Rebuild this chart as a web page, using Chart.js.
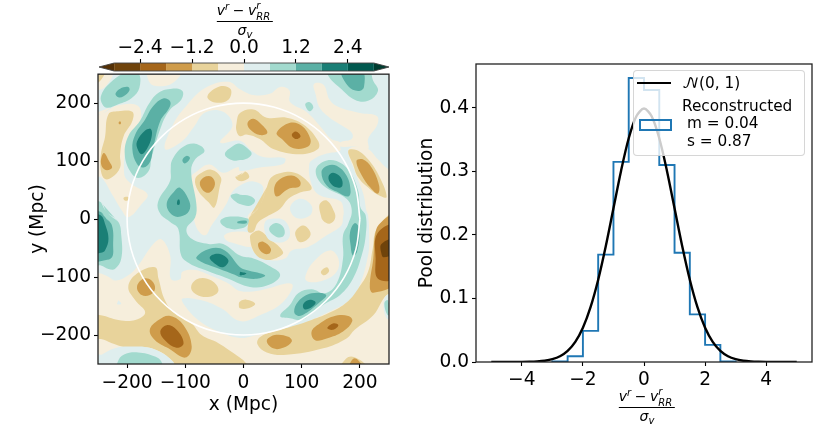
<!DOCTYPE html>
<html><head><meta charset="utf-8">
<script src="https://cdn.jsdelivr.net/npm/chart.js@4"></script>
<style>
html,body{margin:0;padding:0;background:#fff;width:830px;height:428px;overflow:hidden;font-family:"DejaVu Sans",sans-serif;color:#000}
canvas{position:absolute}
.frac{position:absolute;text-align:center;font-size:14px;line-height:14px;transform:translateX(-50%);white-space:nowrap}
.frac i{font-style:italic}
.bar{height:1px;background:#000;margin:2px 0 1px 0}
.ss{display:inline-block;position:relative;width:17px;height:10px}
.ss b{position:absolute;left:0;font-weight:normal;font-style:italic;font-size:10px;line-height:9px}
.sp{font-size:10px;position:relative;top:-5px;font-style:italic}
.sb{font-size:10px;position:relative;top:3px;font-style:italic}
.mn{margin:0 -1px}
#legend{position:absolute;left:633px;top:70px;width:170px;height:84px;background:rgba(255,255,255,.8);border:1px solid rgba(204,204,204,.8);border-radius:4px}
.lt{position:absolute;font-size:15.3px;line-height:16px;white-space:pre}
</style></head><body>
<canvas id="cb" style="left:0;top:0"></canvas>
<canvas id="map" style="left:0;top:60px"></canvas>
<canvas id="hist" style="left:410px;top:0"></canvas>
<div class="frac" style="left:245px;top:3px"><i>v</i><span class="sp">r</span><span class="mn"> − </span><i>v</i><span class="ss"><b style="top:-4px">r</b><b style="top:7px">RR</b></span><div class="bar"></div><i>σ</i><span class="sb">v</span></div>
<div class="frac" style="left:647px;top:389px"><i>v</i><span class="sp">r</span><span class="mn"> − </span><i>v</i><span class="ss"><b style="top:-4px">r</b><b style="top:7px">RR</b></span><div class="bar"></div><i>σ</i><span class="sb">v</span></div>
<div id="legend"></div>
<div style="position:absolute;left:637px;top:82px;width:34px;height:2.2px;background:#000"></div>
<div style="position:absolute;left:639px;top:119px;width:29px;height:8px;border:2px solid #1f77b4"></div>
<div class="lt" style="left:682px;top:75px"><span style="font-family:'DejaVu Math TeX Gyre','DejaVu Serif'">𝒩</span>(0, 1)</div>
<div class="lt" style="left:682px;top:98px">Reconstructed</div>
<div class="lt" style="left:687px;top:115px">m = 0.04</div>
<div class="lt" style="left:687px;top:133px">s = 0.87</div>
<script>
// ---- colour map levels
const levels=[-3,-2.4,-1.8,-1.2,-0.6,0,0.6,1.2,1.8,2.4,3];
const levelColors=['#6f430b','#a5661a','#cf9c4b','#e8d39b','#f6eedc','#dfeeee','#a2dace','#5bb0a5','#1a7f76','#01594f'];
const underColor='#543005', overColor='#003c30';
const cbTicks=[-2.4,-1.2,0,1.2,2.4];
// ---- contour regions of the velocity residual map (x,y in Mpc)
const base=[[-260,-260,260,-260,260,260,-260,260]];
const bandCream=[
 [-260,181,-245,181,-221,195,-181,195,-179,161,-198,135,-205,78,-192,60,-165,43,-175,26,-198,3,-209,15,-226,43,-245,72,-260,72],
 [-163,258,-106,258,-121,235,-146,229,-161,235],
 [-260,258,-224,258,-240,226,-260,226],
 [121,233,137,232,146,209,160,195,200,183,229,178,230,163,214,138,214,121,191,125,166,125,166,132,186,138,186,149,166,163,148,175,131,192,124,215],
 [-135,121,-121,163,-101,192,-66,226,-26,237,-6,224,17,214,45,216,63,228,79,222,80,202,108,185,131,161,151,138,166,132,166,125,166,118,143,113,123,105,113,95,117,60,131,41,166,31,172,15,171,3,168,-11,143,-28,111,-48,83,-54,71,-68,43,-70,16,-54,14,-28,7,3,23,23,34,54,17,65,-6,58,-20,46,-29,27,-43,6,-55,-11,-66,-28,-81,-14,-88,26,-92,69,-78,84,-58,94,-35,80,-9,90,-6,83,28,89,68,95,71,105,34,107,14,118,-6,135,-40,132,-19,161,-35,185,-66,184,-86,158,-106,134],
 [-33,-28,-15,-22,14,-25,18,-37,14,-48,-15,-42,-29,-37],
 [106,-100,120,-74,148,-54,163,-68,160,-91,137,-106,111,-108],
 [-260,-94,-245,-94,-221,-106,-198,-97,-181,-80,-155,-43,-141,-35,-126,-63,-125,-103,-109,-104,-105,-91,-83,-88,-58,-97,-26,-111,-6,-124,28,-123,83,-112,68,-143,28,-166,-6,-176,-38,-154,-72,-140,-105,-137,-102,-148,-78,-174,-43,-194,-6,-205,23,-200,51,-194,97,-185,117,-174,151,-158,177,-144,197,-120,214,-63,216,-28,214,6,211,15,206,43,191,83,180,118,191,125,214,121,231,103,249,86,260,86,260,-260,-260,-260]
];
const bandTan=[
 [-260,258,-238,258,-245,240,-260,232],
 [-232,181,-215,186,-191,185,-191,169,-206,143,-212,112,-212,89,-226,72,-238,69,-245,83,-245,112,-238,141],
 [-206,37,-198,38,-197,33,-204,32],
 [-83,69,-72,80,-55,85,-39,72,-41,55,-50,20,-60,29,-78,49],
 [-62,212,-40,229,-22,224,-26,206,-49,201],
 [-12,165,-6,183,17,189,40,175,74,175,103,163,128,135,128,121,97,112,51,121,28,138,5,146,-6,143,-12,152],
 [10,3,28,23,40,55,48,72,66,80,88,80,106,69,117,52,97,46,77,35,63,18,43,6,25,-6,17,-22,8,-22,8,-8],
 [11,-31,17,-23,28,-20,45,-34,68,-57,57,-67,37,-70,20,-60],
 [-14,73,-6,75,3,82,10,73,3,67,-8,66],
 [131,26,143,32,156,12,157,0,148,-8,137,-3,133,6],
 [90,-20,103,-11,115,-23,111,-34,97,-40,90,-31],
 [133,-91,143,-83,147,-90,138,-97],
 [180,118,194,119,214,103,234,72,246,38,235,40,217,52,197,72,188,95],
 [260,9,229,-17,222,-51,214,-91,197,-120,177,-144,151,-160,117,-174,80,-186,51,-194,28,-204,24,-216,40,-230,74,-234,137,-223,177,-206,191,-191,223,-166,246,-131,260,-131],
 [160,-260,185,-237,215,-260],
 [-198,-117,-183,-94,-152,-83,-146,-103,-135,-140,-118,-163,-89,-180,-72,-200,-43,-214,-9,-237,2,-246,10,-260,-121,-260,-121,-246,-158,-223,-198,-222,-226,-214,-245,-207,-260,-207,-260,-166,-245,-166,-215,-174,-186,-174,-169,-161,-186,-140],
 [-90,-117,-78,-103,-55,-106,-43,-123,-58,-134,-81,-130],
 [-8,-147,-6,-142,5,-139,20,-146,8,-154,-6,-154]
];
const bandOchre=[
 [-260,258,-246,258,-252,246,-260,244],
 [-214,168,-211,168,-211,164,-214,164],
 [-240,114,-231,100,-226,88,-238,85,-245,97],
 [-75,63,-66,73,-55,73,-49,60,-58,46,-69,49],
 [7,166,17,173,31,163,41,149,28,145,11,155],
 [57,149,80,166,100,161,115,138,111,125,86,122,66,138],
 [53,55,63,69,83,75,97,66,96,56,77,52,57,39],
 [25,-43,34,-39,47,-51,43,-60,31,-57],
 [194,100,205,103,220,89,233,58,231,44,220,52,205,72],
 [260,6,234,-8,226,-28,223,-68,217,-117,223,-127,260,-108],
 [117,-194,131,-180,154,-168,180,-167,187,-176,171,-194,143,-206,123,-209],
 [40,-210,54,-200,77,-203,83,-211,68,-222,51,-223],
 [177,-260,191,-240,206,-260],
 [-183,-117,-172,-103,-158,-106,-152,-120,-161,-131,-175,-131],
 [-161,-191,-146,-174,-126,-167,-103,-183,-89,-220,-100,-239,-129,-223,-152,-209]
];
const bandBrown=[
 [83,145,90,151,98,143,90,138],
 [144,-188,154,-180,163,-183,154,-191],
 [260,-11,230,-25,227,-68,231,-103,260,-100],
 [-143,-194,-132,-183,-115,-191,-103,-214,-115,-222,-135,-209]
];
const bandDarkBrown=[[260,-34,237,-43,237,-60,241,-66,260,-57]];
const bandIce=[
 [-244,-234,-221,-223,-198,-220,-158,-223,-121,-246,-121,-260,-260,-260,-260,-230],
 [-215,-140,-210,-146,-217,-147],
 [243,-135,260,-130,260,-170,245,-170],
 [80,20,97,35,117,23,114,6,91,2],
 [37,-5,54,1,71,-3,80,-23,74,-37,54,-40,40,-31]
];
const bandMint=[
 [-244,201,-244,215,-229,235,-204,252,-181,252,-179,226,-192,209,-215,198,-235,192],
 [-163,198,-146,218,-123,225,-105,221,-107,206,-126,189,-141,161,-158,106,-163,83,-181,71,-195,83,-204,112,-198,143,-178,169],
 [-123,101,-106,123,-83,130,-67,118,-83,103,-90,83,-81,26,-83,3,-98,-17,-89,-34,-60,-43,-35,-43,-6,-63,17,-68,43,-80,63,-96,45,-113,11,-117,-26,-103,-66,-88,-92,-77,-107,-63,-112,-17,-126,-5,-143,9,-147,29,-126,66,-125,86],
 [-32,112,-18,126,-6,130,8,121,14,112,3,103,-6,102,-18,101],
 [-22,40,-12,44,-6,42,11,40,20,32,11,23,-6,26,-12,29],
 [-40,-4,-26,4,7,1,8,-8,-3,-16,-26,-16],
 [145,258,147,245,166,226,191,206,214,204,231,221,223,238,214,258],
 [106,198,113,202,120,193,113,186],
 [124,83,137,99,160,100,183,81,197,49,201,20,210,6,210,-28,203,-63,188,-103,166,-131,140,-146,117,-163,100,-174,80,-171,63,-167,80,-148,94,-128,117,-121,140,-128,160,-111,171,-68,171,-28,180,-8,186,15,177,35,137,58],
 [-245,29,-235,12,-215,-5,-210,-28,-210,-68,-221,-86,-232,-86,-245,-80,-260,-80,-260,29],
 [-216,-260,-216,-246,-206,-234,-181,-230,-152,-237,-141,-246,-141,-260],
 [44,-17,54,-7,66,-11,71,-23,66,-31,54,-29],
 [242,-145,248,-140,252,-165,247,-165]
];
const bandTeal=[
 [-220,216,-212,225,-198,228,-196,222,-206,212,-215,210],
 [-155,195,-138,208,-126,203,-128,191,-143,169,-155,123,-161,98,-172,89,-183,95,-191,121,-186,146,-169,172],
 [-132,26,-118,49,-109,54,-95,35,-92,18,-103,6,-121,6],
 [-105,102,-98,109,-92,105,-101,96],
 [-81,-66,-58,-51,-32,-54,-6,-83,5,-88,37,-97,23,-103,-6,-100,-15,-96,-49,-83,-72,-74],
 [-10,-4,5,-3,5,-7,-10,-7],
 [168,258,180,229,197,221,207,228,203,258],
 [134,81,144,92,160,92,177,75,184,49,180,39,163,46,143,58],
 [183,-23,191,-7,199,-17,195,-57,188,-63,184,-45],
 [87,-160,94,-142,117,-128,142,-131,128,-146,106,-163,94,-167],
 [-245,12,-238,3,-226,-11,-224,-45,-226,-66,-238,-71,-260,-71,-260,12]
];
const bandDeepTeal=[
 [-169,153,-159,155,-158,141,-166,121,-175,112,-182,121,-183,134],
 [-113,33,-110,33,-110,25,-114,25],
 [-58,-66,-43,-60,-26,-71,-35,-83,-49,-77],
 [-6,-91,5,-94,-6,-97],
 [146,73,154,80,167,72,170,58,163,54,151,60],
 [103,-146,114,-139,124,-144,114,-154,104,-155],
 [-245,6,-238,-8,-232,-34,-238,-54,-245,-58,-260,-58,-260,6]
];
const paintOrder=[[base,5],[bandCream,4],[bandTan,3],[bandOchre,2],[bandBrown,1],[bandDarkBrown,0],[bandIce,5],[bandMint,6],[bandTeal,7],[bandDeepTeal,8]];
const circleX=[200,193.2,173.2,141.4,100,51.8,0,-51.8,-100,-141.4,-173.2,-193.2,-200,-193.2,-173.2,-141.4,-100,-51.8,0,51.8,100,141.4,173.2,193.2,200];
const circleY=[0,51.8,100,141.4,173.2,193.2,200,193.2,173.2,141.4,100,51.8,0,-51.8,-100,-141.4,-173.2,-193.2,-200,-193.2,-173.2,-141.4,-100,-51.8,0];
const mapTicks=[-200,-100,0,100,200];
// ---- histogram
const histEdges=[-3,-2.5,-2,-1.5,-1,-0.5,0,0.5,1,1.5,2,2.5,3];
const histValues=[0.001,0.009,0.049,0.169,0.315,0.447,0.428,0.31,0.172,0.075,0.027,0.001];
const normX=[-5,-4.75,-4.5,-4.25,-4,-3.75,-3.5,-3.25,-3,-2.75,-2.5,-2.25,-2,-1.75,-1.5,-1.25,-1,-0.75,-0.5,-0.25,0,0.25,0.5,0.75,1,1.25,1.5,1.75,2,2.25,2.5,2.75,3,3.25,3.5,3.75,4,4.25,4.5,4.75,5];
const normY=[0,0.00001,0.00002,0.00005,0.00013,0.00035,0.00087,0.00203,0.00443,0.00909,0.01753,0.03174,0.05399,0.08628,0.12952,0.18265,0.24197,0.30114,0.35207,0.38667,0.39894,0.38667,0.35207,0.30114,0.24197,0.18265,0.12952,0.08628,0.05399,0.03174,0.01753,0.00909,0.00443,0.00203,0.00087,0.00035,0.00013,0.00005,0.00002,0.00001,0];
const histXTicks=[-4,-2,0,2,4], histYTicks=[0,0.1,0.2,0.3,0.4];

const FONT='"DejaVu Sans"', TS=18.6;
const minus=v=>String(v).replace('-','\u2212');
function poly(flat,color,tension){
  const d=[];for(let i=0;i<flat.length;i+=2)d.push({x:flat[i],y:flat[i+1]});
  d.push(d[0]);
  if(flat.length>6){d.push(d[1]);d.push(d[2]);}
  return {data:d,showLine:true,fill:'shape',backgroundColor:color,borderWidth:0,borderColor:'transparent',pointRadius:0,tension:tension===undefined?0.4:tension};
}
function setSize(c,w,h){const e=document.getElementById(c);e.width=w;e.height=h;e.style.width=w+'px';e.style.height=h+'px';return e;}
const frame={id:'frame',afterDatasetsDraw(ch){const a=ch.chartArea,c=ch.ctx;c.save();c.strokeStyle='#222';c.lineWidth=1.3;c.strokeRect(a.left,a.top,a.width,a.height);c.restore();}};
const base_={responsive:false,animation:false,events:[],plugins:{legend:{display:false},tooltip:{enabled:false}},elements:{line:{capBezierPoints:false}}};
function axis(min,max,ticks,pos,fit,fmt,title,pad){
  return {type:'linear',position:pos,min,max,afterBuildTicks(s){s.ticks=ticks.map(v=>({value:v}));},
    afterFit(s){if(pos==='left')s.width=fit;else s.height=fit;},
    grid:{display:true,drawOnChartArea:false,drawTicks:true,tickLength:4,tickColor:'#000',tickWidth:1.1,color:'#000'},border:{display:false},
    ticks:{color:'#000',font:{family:FONT,size:TS},padding:pad===undefined?3:pad,maxRotation:0,autoSkip:false,callback:fmt},
    title:title?{display:true,text:title,color:'#000',font:{family:FONT,size:TS},padding:{top:2,bottom:2}}:{display:false}};
}
// colour bar
const cbSets=[];
levelColors.forEach((c,i)=>cbSets.push(poly([levels[i],0,levels[i+1],0,levels[i+1],1,levels[i],1],c,0)));
cbSets.push(poly([-3,0,-3.35,0.5,-3,1],underColor,0));cbSets.push(poly([3,0,3.35,0.5,3,1],overColor,0));
const cbOutlineX=[-3,-3.35,-3,3,3.35,3,-3], cbOutlineY=[0,0.5,1,1,0.5,0,0];
cbSets.unshift({data:cbOutlineX.map((x,i)=>({x,y:cbOutlineY[i]})),showLine:true,fill:false,borderColor:'#444',borderWidth:0.9,pointRadius:0,tension:0,clip:false});
setSize('cb',410,72);
new Chart('cb',{type:'scatter',data:{datasets:cbSets},options:{...base_,layout:{padding:{left:99,right:21,top:0,bottom:1}},
 scales:{x:axis(-3.35,3.35,cbTicks,'top',63,v=>minus(v.toFixed(1)),null,0),y:{type:'linear',min:0,max:1,display:false}}}});
// map
const mapSets=[];
paintOrder.forEach(([g,ci])=>g.forEach(p=>mapSets.push(poly(p,levelColors[ci],g===base?0:undefined))));
mapSets.reverse();
mapSets.unshift({data:circleX.map((x,i)=>({x,y:circleY[i]})),showLine:true,fill:false,borderColor:'#fff',borderWidth:1.6,pointRadius:0,tension:0.34});
setSize('map',410,368);
new Chart('map',{type:'scatter',data:{datasets:mapSets},plugins:[frame],options:{...base_,layout:{padding:{left:25,right:21,top:13,bottom:10}},
 scales:{x:axis(-250,250,mapTicks,'bottom',54,v=>minus(v),'x (Mpc)',4),y:axis(-250,250,mapTicks,'left',73,v=>minus(v),'y (Mpc)')}}});
// histogram
const stepData=[{x:histEdges[0],y:0}];
histValues.forEach((v,i)=>stepData.push({x:histEdges[i],y:v}));
stepData.push({x:histEdges[histEdges.length-1],y:histValues[histValues.length-1]});
stepData.push({x:histEdges[histEdges.length-1],y:0});
setSize('hist',420,428);
new Chart('hist',{type:'scatter',data:{datasets:[
 {data:normX.map((x,i)=>({x,y:normY[i]})),showLine:true,borderColor:'#000',borderWidth:2.4,pointRadius:0,tension:0.3},
 {data:stepData,showLine:true,stepped:'before',borderColor:'#1f77b4',borderWidth:1.9,pointRadius:0}
]},plugins:[frame],options:{...base_,layout:{padding:{left:4,right:18,top:64,bottom:0}},
 scales:{x:axis(-5.5,5.5,histXTicks,'bottom',66,v=>minus(v)),y:axis(0,0.469,histYTicks,'left',62,v=>v.toFixed(1),'Pool distribution')}}});
</script>
</body></html>
